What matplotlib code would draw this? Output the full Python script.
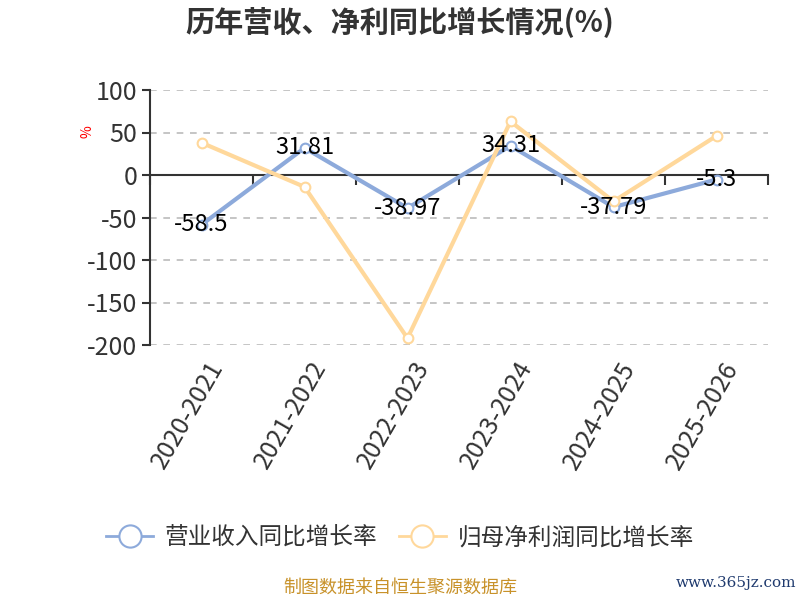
import matplotlib
matplotlib.use("Agg")
import matplotlib.pyplot as plt
import numpy as np

plt.rcParams['font.family'] = ['Noto Sans CJK SC', 'DejaVu Sans']

# 数据
years = ["2020-2021", "2021-2022", "2022-2023", "2023-2024", "2024-2025", "2025-2026"]
revenue_growth = [-58.5, 31.81, -38.97, 34.31, -37.79, -5.3]
profit_growth = [38, -14, -192, 63, -31, 46]
revenue_labels = ["-58.5", "31.81", "-38.97", "34.31", "-37.79", "-5.3"]

blue = "#8DAADB"
orange = "#FFD89B"

fig = plt.figure(figsize=(8, 6), dpi=100)
ax = fig.add_axes([0.1875, 0.425, 0.7725, 0.425])

x = np.arange(len(years))
ax.plot(x, revenue_growth, color=blue, lw=3, marker='o', ms=7,
        mfc='white', mec=blue, mew=1.5, zorder=3, label="营业收入同比增长率")
ax.plot(x, profit_growth, color=orange, lw=3, marker='o', ms=7,
        mfc='white', mec=orange, mew=1.5, zorder=3, label="归母净利润同比增长率")

for xi, v, t in zip(x, revenue_growth, revenue_labels):
    ax.text(xi, v, t, ha='center', va='center', fontsize=17, color='black', zorder=4)

ax.set_xlim(-0.5, len(years) - 0.5)
ax.set_ylim(-200, 100)
ax.set_yticks([100, 50, 0, -50, -100, -150, -200])
ax.set_yticklabels(["100", "50", "0", "-50", "-100", "-150", "-200"])
ax.yaxis.grid(True, linestyle=(0, (4, 4)), color='#bbbbbb', lw=1.2)
ax.set_axisbelow(True)

for s in ['top', 'right']:
    ax.spines[s].set_visible(False)
ax.spines['bottom'].set_position(('data', 0))
ax.spines['bottom'].set_color('#333333')
ax.spines['bottom'].set_linewidth(1.5)
ax.spines['left'].set_color('#333333')
ax.spines['left'].set_linewidth(1.5)

ax.tick_params(axis='y', labelsize=18, colors='#333333', length=6, width=1.5, pad=3)
ax.set_xticks(np.arange(len(years) + 1) - 0.5, minor=False)
ax.set_xticklabels([])
ax.tick_params(axis='x', length=7, width=1.5, colors='#333333', direction='out')

for xi, yr in zip(x, years):
    ax.text(xi + 0.05, -214, yr, rotation=60, ha='right', va='top',
            fontsize=18, color='#333333', rotation_mode='anchor')

fig.text(0.11, 0.78, "%", color='red', fontsize=10, rotation=90, ha='center', va='center')

fig.text(0.5, 0.962, "历年营收、净利同比增长情况(%)", ha='center', va='center',
         fontsize=21, fontweight='bold', color='#333333')

leg = fig.legend(loc='center', bbox_to_anchor=(0.5, 0.103), ncol=2, frameon=False,
                 fontsize=17, handlelength=2.0, columnspacing=0.9, handletextpad=0.5,
                 labelcolor='#333333')
for h in leg.legend_handles:
    h.set_markersize(16)
    h.set_linewidth(2)

fig.text(0.5, 0.02, "制图数据来自恒生聚源数据库", ha='center', va='center',
         fontsize=13, color='#C8922A')
fig.text(0.92, 0.028, "www.365jz.com", ha='center', va='center',
         fontsize=11, color='#1F3A6E', family=['DejaVu Serif'])

fig.savefig("out.png", dpi=100)
